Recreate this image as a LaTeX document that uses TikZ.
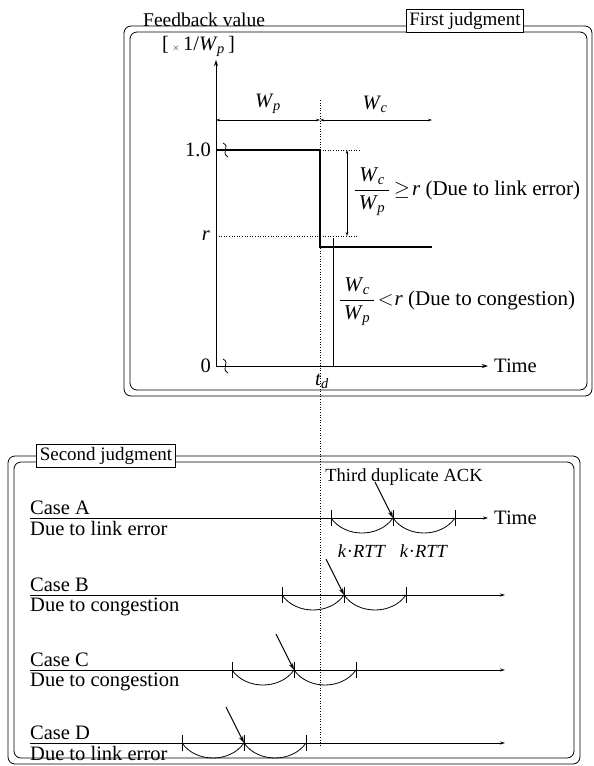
\documentclass[tikz,border=0pt]{standalone}
\usepackage{amsmath}
\usepackage{fontspec}
\setmainfont{Liberation Serif}
\usetikzlibrary{arrows.meta}
\newcommand{\vW}[1]{\textit{W}\kern-0.5pt\textsubscript{\textit{#1}}}
\newcommand{\kRTT}{\textit{k}\kern0.5pt\textperiodcentered\textit{RTT}}
\begin{document}
\begin{tikzpicture}[x=1pt,y=-1pt,
  txt/.style={font=\fontsize{20.5}{23}\selectfont, inner sep=0pt},
  smalltxt/.style={font=\fontsize{18.5}{21}\selectfont, inner sep=0pt},
  frameline/.style={draw, line width=0.8pt, rounded corners=7pt},
  tag/.style={draw, fill=white, line width=0.8pt, font=\fontsize{19}{22}\selectfont, inner sep=3pt},
  axisline/.style={line width=0.9pt, -{Stealth[length=6pt,width=4pt]}},
  dimline/.style={line width=0.5pt, {Stealth[length=4pt,width=2.5pt]}-{Stealth[length=4pt,width=2.5pt]}},
  stepline/.style={line width=1.5pt},
  guide/.style={line width=0.6pt, dotted},
  caseline/.style={line width=1pt, -{Stealth[length=5pt,width=3pt]}},
  tickline/.style={line width=0.7pt},
  arcline/.style={line width=0.8pt},
  ackarrow/.style={line width=1.1pt, -{Stealth[length=7pt,width=4.5pt]}},
  breakmark/.style={line width=0.8pt}
]
\useasboundingbox (0,0) rectangle (594,766);
\fill[white] (0,0) rectangle (594,766);

% ---------- First judgment frame ----------
\draw[frameline] (124,26) rectangle (592,396);
\draw[frameline] (130,32) rectangle (587,390);
\node[tag] (first) at (465,21) {First judgment};

\node[txt, font=\fontsize{19.5}{22}\selectfont, anchor=west] (fbv) at (143,20) {Feedback value};
\node[txt, anchor=west] (unit) at (162,46) {[\,{\small$\times$}\,1/\vW{p}\,]};

% axes
\coordinate (origin) at (216,366);
\coordinate (ytop) at (216,60);
\coordinate (xend) at (488,366);
\draw[axisline] (origin) -- (ytop);
\draw[axisline] (origin) -- (xend);
\node[txt, anchor=west] (time1) at (494,366) {Time};
\node[txt, anchor=east] (zero) at (211,366) {0};
\node[txt, anchor=east] (one) at (211,150) {1.0};
\node[txt, anchor=east] (rlab) at (210,236) {\textit{r}};
\node[txt] (td) at (322,381) {\textit{t}\textsubscript{\textit{d}}};

% break marks
\draw[breakmark] (223,143) .. controls (231,147) and (220,152) .. (228,157);
\draw[breakmark] (223,359) .. controls (231,363) and (220,368) .. (228,373);

% step function
\coordinate (s1) at (216,150);
\coordinate (s2) at (320,150);
\coordinate (s3) at (320,247);
\coordinate (s4) at (432,247);
\draw[stepline] (s1) -- (s2) -- (s3) -- (s4);

% dotted guides
\coordinate (tdtop) at (320,100);
\coordinate (tdbot) at (320,746);
\draw[guide] (tdtop) -- (tdbot);
\coordinate (r0) at (216,236);
\coordinate (r1) at (358,236);
\draw[guide] (r0) -- (r1);
\coordinate (o1) at (360,150);
\draw[guide] (s2) -- (o1);

% W_p / W_c dimension arrows
\coordinate (wa) at (216,120);
\coordinate (wb) at (320,120);
\coordinate (wc) at (432,120);
\draw[dimline] (wa) -- (wb);
\draw[dimline] (wb) -- (wc);
\node[txt] (wp) at (268,104) {\vW{p}};
\node[txt] (wcl) at (375,104) {\vW{c}};

% ratio dimension arrows
\coordinate (ga) at (347,150);
\coordinate (gb) at (347,236);
\draw[dimline] (ga) -- (gb);
\node[txt, font=\fontsize{21}{24}\selectfont, anchor=west] (geq) at (354,192) {$\dfrac{\,\text{\vW{c}}\,}{\,\text{\vW{p}}\,}$\kern4pt$\geq$\kern2pt\textit{r} (Due to link error)};
\coordinate (la) at (333,238);
\coordinate (lb) at (333,366);
\draw[line width=0.6pt] (la) -- (lb);
\node[txt, font=\fontsize{21}{24}\selectfont, anchor=west] (lt) at (339,302) {$\dfrac{\,\text{\vW{c}}\,}{\,\text{\vW{p}}\,}$\kern3pt$<$\kern1pt\textit{r} (Due to congestion)};

% ---------- Second judgment frame ----------
\draw[frameline] (8,456) rectangle (580,764);
\draw[frameline] (14,462) rectangle (574,758);
\node[tag] (second) at (106,456) {Second judgment};

\foreach \n/\y/\t/\lab/\ex in {A/518/331/Due to link error/488, B/595/282/Due to congestion/505, C/670/232/Due to congestion/505, D/743/182/Due to link error/505}{
  \coordinate (L\n) at (30,\y);
  \coordinate (E\n) at (\ex,\y);
  \draw[caseline] (L\n) -- (E\n);
  \node[txt, anchor=south west] (case\n) at (30,\y-3) {Case \n};
  \node[txt, anchor=north west] (due\n) at (30,\y+3) {\lab};
  \coordinate (T1\n) at (\t,\y);
  \coordinate (T2\n) at (\t+62,\y);
  \coordinate (T3\n) at (\t+124,\y);
  \foreach \k in {1,2,3}{\draw[tickline] ([yshift=-8pt]T\k\n) -- ([yshift=8pt]T\k\n);}
  \draw[arcline] (T1\n) .. controls ([shift={(14,20)}]T1\n) and ([shift={(-14,20)}]T2\n) .. (T2\n);
  \draw[arcline] (T2\n) .. controls ([shift={(14,20)}]T2\n) and ([shift={(-14,20)}]T3\n) .. (T3\n);
  \coordinate (S\n) at (\t+44,\y-36);
  \draw[ackarrow] (S\n) -- (T2\n);
}
\node[txt, anchor=west] (time2) at (494,518) {Time};
\node[smalltxt] (ack) at (404,477) {Third duplicate ACK};
\node[smalltxt] (k1) at (362,551) {\kRTT};
\node[smalltxt] (k2) at (424,551) {\kRTT};
\end{tikzpicture}
\end{document}
